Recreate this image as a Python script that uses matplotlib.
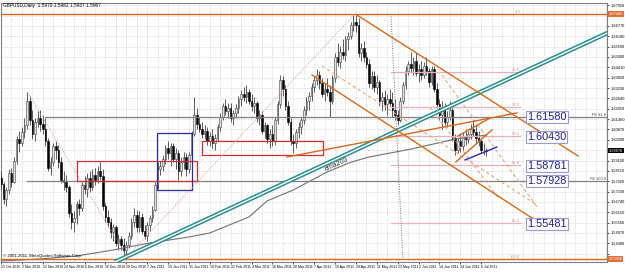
import matplotlib
matplotlib.use("Agg")
import matplotlib.pyplot as plt
from matplotlib.patches import Rectangle
from matplotlib.transforms import blended_transform_factory
import numpy as np

plt.rcParams['font.family'] = ['Liberation Sans', 'DejaVu Sans']

# ---------------- data (GBPUSD daily, bar index 0 = 21 Oct 2010) ----------------
opens = [1.5810,1.5775,1.5690,1.5740,1.5840,1.5790,1.5910,1.6030,1.6010,1.6070,
         1.6110,1.6250,1.6140,1.6060,1.6130,1.6150,1.6120,1.6090,1.6020,1.5870,
         1.5900,1.5990,1.5970,1.5900,1.5800,1.5790,1.5760,1.5610,1.5560,1.5580,
         1.5660,1.5640,1.5770,1.5750,1.5810,1.5760,1.5830,1.5800,1.5850,1.5820,
         1.5650,1.5590,1.5560,1.5500,1.5530,1.5440,1.5460,1.5430,1.5400,1.5430,
         1.5480,1.5560,1.5600,1.5530,1.5590,1.5510,1.5480,1.5540,1.5580,1.5630,
         1.5770,1.5860,1.5880,1.5920,1.5980,1.5950,1.5990,1.5920,1.5950,1.5850,
         1.5900,1.5930,1.5860,1.5940,1.6060,1.6170,1.6120,1.6090,1.6060,1.6080,
         1.6020,1.6050,1.6010,1.6040,1.6100,1.6160,1.6220,1.6190,1.6210,1.6150,
         1.6180,1.6210,1.6260,1.6290,1.6270,1.6300,1.6250,1.6220,1.6240,1.6150,
         1.6170,1.6080,1.6110,1.6030,1.6060,1.6020,1.6140,1.6230,1.6370,1.6320,
         1.6220,1.6130,1.6020,1.6010,1.6070,1.6100,1.6140,1.6200,1.6250,1.6280,
         1.6330,1.6370,1.6400,1.6350,1.6290,1.6320,1.6300,1.6250,1.6380,1.6500,
         1.6470,1.6530,1.6510,1.6600,1.6620,1.6680,1.6700,1.6680,1.6520,1.6550,
         1.6500,1.6460,1.6350,1.6390,1.6330,1.6360,1.6250,1.6270,1.6230,1.6260,
         1.6240,1.6200,1.6170,1.6140,1.6250,1.6340,1.6420,1.6460,1.6440,1.6480,
         1.6410,1.6430,1.6400,1.6450,1.6420,1.6360,1.6430,1.6320,1.6230,1.6170,
         1.6210,1.6130,1.6160,1.6200,1.6040,1.5970,1.6020,1.5990,1.6050,1.6030,
         1.6060,1.6090,1.6070,1.6040,1.6020,1.5970,1.5970]
highs = [1.5850,1.5790,1.5760,1.5860,1.5870,1.5930,1.6050,1.6080,1.6100,1.6150,
         1.6298,1.6275,1.6200,1.6150,1.6190,1.6200,1.6170,1.6150,1.6040,1.5930,
         1.6010,1.6020,1.6000,1.5930,1.5850,1.5830,1.5770,1.5660,1.5620,1.5680,
         1.5690,1.5790,1.5820,1.5840,1.5850,1.5860,1.5870,1.5880,1.5900,1.5860,
         1.5670,1.5630,1.5580,1.5550,1.5540,1.5490,1.5480,1.5470,1.5450,1.5500,
         1.5580,1.5640,1.5630,1.5620,1.5610,1.5540,1.5560,1.5600,1.5650,1.5790,
         1.5900,1.5910,1.5940,1.6000,1.6020,1.6010,1.6010,1.5980,1.5970,1.5930,
         1.5960,1.5950,1.5960,1.6080,1.6270,1.6210,1.6160,1.6130,1.6110,1.6100,
         1.6070,1.6090,1.6060,1.6120,1.6180,1.6240,1.6260,1.6240,1.6240,1.6200,
         1.6230,1.6280,1.6310,1.6330,1.6340,1.6320,1.6290,1.6270,1.6250,1.6200,
         1.6190,1.6130,1.6120,1.6090,1.6110,1.6160,1.6250,1.6400,1.6390,1.6340,
         1.6250,1.6150,1.6060,1.6090,1.6130,1.6160,1.6220,1.6270,1.6300,1.6350,
         1.6390,1.6430,1.6420,1.6380,1.6350,1.6380,1.6340,1.6400,1.6520,1.6580,
         1.6560,1.6600,1.6620,1.6640,1.6700,1.6746,1.6740,1.6720,1.6580,1.6590,
         1.6530,1.6490,1.6420,1.6420,1.6400,1.6370,1.6300,1.6310,1.6290,1.6320,
         1.6300,1.6260,1.6200,1.6270,1.6360,1.6450,1.6480,1.6530,1.6500,1.6520,
         1.6460,1.6480,1.6470,1.6500,1.6440,1.6450,1.6450,1.6350,1.6260,1.6250,
         1.6240,1.6190,1.6250,1.6220,1.6060,1.6040,1.6060,1.6070,1.6090,1.6080,
         1.6120,1.6140,1.6110,1.6080,1.6040,1.6010,1.5982]
lows = [1.5745,1.5660,1.5650,1.5720,1.5760,1.5780,1.5890,1.5960,1.5990,1.6040,
        1.6090,1.6110,1.6030,1.6020,1.6100,1.6080,1.6060,1.5990,1.5850,1.5830,
        1.5880,1.5920,1.5870,1.5780,1.5740,1.5730,1.5590,1.5520,1.5500,1.5550,
        1.5600,1.5620,1.5720,1.5700,1.5730,1.5740,1.5770,1.5780,1.5800,1.5630,
        1.5560,1.5530,1.5470,1.5450,1.5420,1.5400,1.5400,1.5370,1.5350,1.5410,
        1.5460,1.5530,1.5500,1.5500,1.5490,1.5460,1.5450,1.5510,1.5560,1.5620,
        1.5750,1.5830,1.5850,1.5890,1.5920,1.5880,1.5900,1.5860,1.5800,1.5820,
        1.5860,1.5820,1.5840,1.5930,1.6050,1.6090,1.6070,1.6040,1.6030,1.6000,
        1.5990,1.5980,1.5970,1.6020,1.6080,1.6140,1.6170,1.6150,1.6130,1.6110,
        1.6150,1.6180,1.6220,1.6250,1.6240,1.6230,1.6190,1.6180,1.6130,1.6110,
        1.6060,1.6040,1.6010,1.5980,1.5990,1.6000,1.6120,1.6210,1.6280,1.6200,
        1.6110,1.6000,1.5950,1.5980,1.6040,1.6060,1.6120,1.6170,1.6200,1.6250,
        1.6300,1.6340,1.6320,1.6270,1.6250,1.6280,1.6160,1.6230,1.6360,1.6450,
        1.6440,1.6490,1.6480,1.6540,1.6600,1.6650,1.6640,1.6500,1.6480,1.6470,
        1.6440,1.6330,1.6320,1.6300,1.6290,1.6220,1.6190,1.6200,1.6170,1.6220,
        1.6160,1.6140,1.6110,1.6130,1.6230,1.6320,1.6400,1.6410,1.6400,1.6390,
        1.6360,1.6370,1.6380,1.6400,1.6330,1.6340,1.6300,1.6210,1.6140,1.6090,
        1.6110,1.6100,1.6140,1.6020,1.5940,1.5950,1.5960,1.5970,1.6000,1.6010,
        1.6030,1.6050,1.6010,1.5990,1.5950,1.5940,1.5937]
closes = [1.5775,1.5690,1.5740,1.5840,1.5790,1.5910,1.6030,1.6010,1.6070,1.6110,
          1.6250,1.6140,1.6060,1.6130,1.6150,1.6120,1.6090,1.6020,1.5870,1.5900,
          1.5990,1.5970,1.5900,1.5800,1.5790,1.5760,1.5610,1.5560,1.5580,1.5660,
          1.5640,1.5770,1.5750,1.5810,1.5760,1.5830,1.5800,1.5850,1.5820,1.5650,
          1.5590,1.5560,1.5500,1.5530,1.5440,1.5460,1.5430,1.5400,1.5430,1.5480,
          1.5560,1.5600,1.5530,1.5590,1.5510,1.5480,1.5540,1.5580,1.5630,1.5770,
          1.5860,1.5880,1.5920,1.5980,1.5950,1.5990,1.5920,1.5950,1.5850,1.5900,
          1.5930,1.5860,1.5940,1.6060,1.6170,1.6120,1.6090,1.6060,1.6080,1.6020,
          1.6050,1.6010,1.6040,1.6100,1.6160,1.6220,1.6190,1.6210,1.6150,1.6180,
          1.6210,1.6260,1.6290,1.6270,1.6300,1.6250,1.6220,1.6240,1.6150,1.6170,
          1.6080,1.6110,1.6030,1.6060,1.6020,1.6140,1.6230,1.6370,1.6320,1.6220,
          1.6130,1.6020,1.6010,1.6070,1.6100,1.6140,1.6200,1.6250,1.6280,1.6330,
          1.6370,1.6400,1.6350,1.6290,1.6320,1.6300,1.6250,1.6380,1.6500,1.6470,
          1.6530,1.6510,1.6600,1.6620,1.6680,1.6700,1.6680,1.6520,1.6550,1.6500,
          1.6460,1.6350,1.6390,1.6330,1.6360,1.6250,1.6270,1.6230,1.6260,1.6240,
          1.6200,1.6170,1.6140,1.6250,1.6340,1.6420,1.6460,1.6440,1.6480,1.6410,
          1.6430,1.6400,1.6450,1.6420,1.6360,1.6430,1.6320,1.6230,1.6170,1.6210,
          1.6130,1.6160,1.6200,1.6040,1.5970,1.6020,1.5990,1.6050,1.6030,1.6060,
          1.6090,1.6070,1.6040,1.6020,1.5970,1.5970,1.5967]

ema_bars = [0, 15, 29, 43, 57, 72, 80, 95, 102, 112, 125, 134, 141, 157, 175, 186]
ema_vals = [1.5337, 1.5349, 1.5366, 1.5400, 1.5440, 1.5474, 1.5497, 1.5588, 1.5680,
            1.5742, 1.5845, 1.5900, 1.5930, 1.5975, 1.6035, 1.6055]

date_labels = ['21 Oct 2010', '2 Nov 2010', '12 Nov 2010', '24 Nov 2010', '6 Dec 2010',
               '16 Dec 2010', '28 Dec 2010', '7 Jan 2011', '19 Jan 2011', '31 Jan 2011',
               '10 Feb 2011', '22 Feb 2011', '4 Mar 2011', '16 Mar 2011', '28 Mar 2011',
               '7 Apr 2011', '19 Apr 2011', '29 Apr 2011', '11 May 2011', '23 May 2011',
               '2 Jun 2011', '14 Jun 2011', '24 Jun 2011', '6 Jul 2011']
date_bars = [8 * k for k in range(len(date_labels))]

price_ticks = [1.5379, 1.5438, 1.5497, 1.5556, 1.5615, 1.5674, 1.5733, 1.5792, 1.5851,
               1.5910, 1.5969, 1.6028, 1.6087, 1.6146, 1.6205, 1.6264, 1.6323, 1.6382,
               1.6441, 1.6500, 1.6559, 1.6618, 1.6677, 1.6736, 1.6795]

fib_high, fib_low = 1.6746, 1.5350
fib_levels = [0.236, 0.382, 0.500, 0.618, 0.854]
fib_names = ['23.6', '38.2', '50.0', '61.8', '85.4']
fib_span = (149.4, 198.9)

level_lines = [1.61580, 1.57928]
level_starts = [16.9, 10.0]
level_names = ['FE 61.8', 'FE 100.0']
label_prices = [1.61580, 1.60430, 1.58781, 1.57928, 1.55481]

red_boxes = [((29.1, 1.5793), (75.1, 1.5907)), ((77.0, 1.5941), (123.4, 1.6021))]
blue_box = ((59.8, 1.5742), (73.2, 1.6067))

teal_line = [(43.7, 1.5332), (234.1, 1.6649)]
orange_solid = [[(136.4, 1.6739), (221.1, 1.5936)],
                [(119.2, 1.6397), (204.6, 1.5571)],
                [(109.6, 1.5930), (197.7, 1.6181)],
                [(175.1, 1.6050), (187.4, 1.6152)],
                [(174.3, 1.5902), (188.1, 1.6084)]]
orange_dashed = [[(123.0, 1.6449), (205.4, 1.5656)],
                 [(169.0, 1.6397), (205.4, 1.5645)],
                 [(164.4, 1.6215), (191.2, 1.5685)]]
blue_line = [(177.8, 1.5913), (190.0, 1.5987)]
pink_dotted = [[(10.3, 1.6295), (48.3, 1.5360)],
               [(48.3, 1.5360), (135.6, 1.6745)]]
gray_dotted = [(149.4, 1.6745), (154.0, 1.5346)]

ORANGE = '#d2691e'
PINK = '#e8b0b8'

# ---------------- figure ----------------
fig = plt.figure(figsize=(6.25, 2.72), dpi=100)
ax = fig.add_axes([0.5 / 625, 10 / 272, 606.5 / 625, 259 / 272])
ax.set_xlim(-0.19, 232.2)
ax.set_ylim(1.53315, 1.68078)

for p in price_ticks:
    ax.axhline(p, color='#c4c4c4', lw=0.5, ls=(0, (1, 1.5)), zorder=0)
for b in range(0, 233, 4):
    ax.axvline(b, color='#c4c4c4', lw=0.5, ls=(0, (1, 1.5)), zorder=0)

# candles
x = np.arange(len(closes))
o = np.array(opens); h = np.array(highs); l = np.array(lows); c = np.array(closes)
up = c >= o
ax.vlines(x, l, h, colors='#404040', lw=0.6, zorder=3)
ax.bar(x[up], np.maximum((c - o)[up], 0.0002), bottom=o[up], width=0.62,
       color='#e2e2e2', edgecolor='#404040', lw=0.4, zorder=4)
ax.bar(x[~up], (o - c)[~up], bottom=c[~up], width=0.62,
       color='black', edgecolor='black', lw=0.4, zorder=4)

# EMA 200
ax.plot(ema_bars, ema_vals, color='#707070', lw=0.8, zorder=5)
ax.text(128.7, 1.5890, 'ema200', rotation=24, fontsize=5, color='#303030',
        ha='center', va='center', zorder=6)

# horizontal orange lines (fib 0 / 100)
for p, nm in [(fib_high, '0.0'), (fib_low, '100.0')]:
    ax.axhline(p, color=ORANGE, lw=1.0, zorder=5)
    ax.text(fib_span[1], p, nm, fontsize=3.0, color='#d09090', ha='right', va='bottom', zorder=6)

# fib levels
for lv, nm in zip(fib_levels, fib_names):
    p = fib_high - lv * (fib_high - fib_low)
    ax.plot(fib_span, [p, p], color=PINK, lw=0.9, zorder=5)
    ax.text(fib_span[1], p, nm, fontsize=3.0, color='#d09090', ha='right', va='bottom', zorder=6)

# gray level lines
for p, s, nm in zip(level_lines, level_starts, level_names):
    ax.plot([s, 232.2], [p, p], color='#808080', lw=0.9, zorder=5)
    ax.text(231.6, p, nm, fontsize=2.8, color='#404040', ha='right', va='bottom', zorder=6)

# rectangles
for (x0, y0), (x1, y1) in red_boxes:
    ax.add_patch(Rectangle((x0, y0), x1 - x0, y1 - y0, fill=False, ec='#cc3030', lw=0.9, zorder=6))
(bx0, by0), (bx1, by1) = blue_box
ax.add_patch(Rectangle((bx0, by0), bx1 - bx0, by1 - by0, fill=False, ec='#2a2a9a', lw=0.9, zorder=6))

# trend lines
(tx0, ty0), (tx1, ty1) = teal_line
ax.plot([tx0, tx1], [ty0, ty1], color='#2a8c8c', lw=3.2, zorder=7, solid_capstyle='butt')
ax.plot([tx0, tx1], [ty0, ty1], color='white', lw=1.0, zorder=7)
for seg in orange_solid:
    ax.plot([seg[0][0], seg[1][0]], [seg[0][1], seg[1][1]], color=ORANGE, lw=1.0, zorder=7)
for seg in orange_dashed:
    ax.plot([seg[0][0], seg[1][0]], [seg[0][1], seg[1][1]], color='#e8a67a', lw=0.8,
            ls=(0, (3, 2.5)), zorder=6)
ax.plot([blue_line[0][0], blue_line[1][0]], [blue_line[0][1], blue_line[1][1]],
        color='#2a2ab0', lw=1.0, zorder=7)
for seg in pink_dotted:
    ax.plot([seg[0][0], seg[1][0]], [seg[0][1], seg[1][1]], color='#e89090', lw=0.7,
            ls=(0, (1, 1.5)), zorder=6)
ax.plot([gray_dotted[0][0], gray_dotted[1][0]], [gray_dotted[0][1], gray_dotted[1][1]],
        color='#707070', lw=0.7, ls=(0, (1, 1.5)), zorder=6)

# price label boxes
for p in label_prices:
    ax.text(201.5, p, f'{p:.5f}', fontsize=7.8, color='#1c1c8a', ha='left', va='center', zorder=8,
            bbox=dict(boxstyle='square,pad=0.12', fc='white', ec='#9a9ad0', lw=0.8))

# axes styling
for sp in ax.spines.values():
    sp.set_color('#808080')
    sp.set_linewidth(0.8)
tags = [(fib_high, '#e0703a'), (fib_low, '#e0703a'), (closes[-1], 'black')]
ax.yaxis.tick_right()
ax.set_yticks(price_ticks)
ax.set_yticklabels(['' if any(abs(p - t) < 0.0035 for t, _ in tags) else f'{p:.5f}'
                    for p in price_ticks])
ax.tick_params(axis='y', labelsize=2.8, length=1.5, pad=1.0, width=0.5, colors='black')
ax.set_xticks(date_bars)
ax.set_xticklabels(date_labels, ha='left')
ax.tick_params(axis='x', labelsize=2.5, length=1.5, pad=1, width=0.5, colors='black')

# axis price tags
tr = blended_transform_factory(ax.transAxes, ax.transData)
for p, fc in tags:
    ax.text(1.0025, p, f'{p:.5f}', transform=tr, fontsize=2.8, color='white', ha='left',
            va='center', zorder=9, clip_on=False,
            bbox=dict(boxstyle='square,pad=0.25', fc=fc, ec='none'))

fig.text(3 / 625, 1 - 6 / 272, 'GBPUSD,Daily  %.4f %.4f %.4f %.4f' % (opens[-1], highs[-1], lows[-1], closes[-1]),
         fontsize=3.4, color='black', ha='left', va='center')
ax.text(0.004, 0.015, '© 2001-2011, MetaQuotes Software Corp.', transform=ax.transAxes,
        fontsize=3.1, color='black', ha='left', va='bottom', zorder=9)

fig.savefig('out.png', dpi=100, facecolor='white')
